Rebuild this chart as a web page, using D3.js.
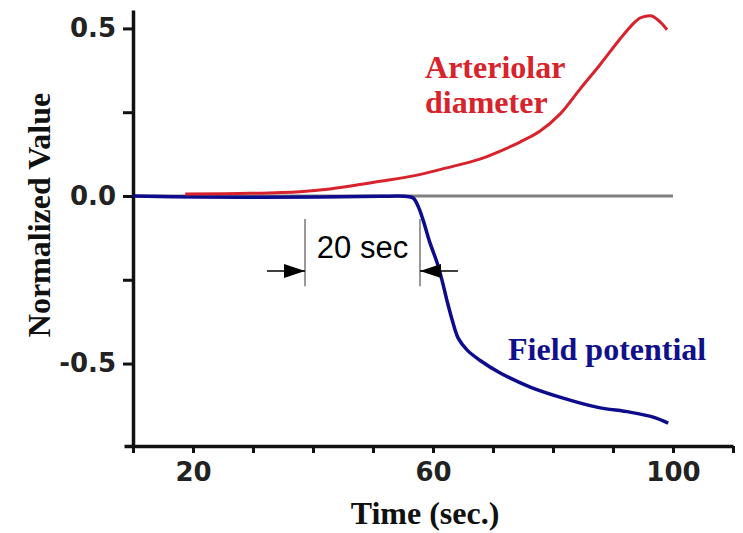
<!DOCTYPE html>
<html>
<head>
<meta charset="utf-8">
<script src="https://cdn.jsdelivr.net/npm/d3@7"></script>
<style>
  body { margin: 0; background: #fff; }
  svg { display: block; }
  .axis path, .axis line { stroke: #111; }
  .axis text { font-family: "DejaVu Sans", sans-serif; font-weight: bold; font-size: 26px; fill: #222; }
  .title { font-family: "Liberation Serif", "Times New Roman", serif; font-weight: bold; font-size: 32px; }
</style>
</head>
<body>
<div id="chart"></div>
<script>
// data
var redTime  = [18.7, 29.5, 37.8, 42.8, 47.8, 51.2, 56.7, 62.3, 67.8, 71.2, 74.5, 77.8, 81.2, 84.5, 87.8, 91.2, 93.3, 94.5, 95.7, 96.5, 97.3, 98.2, 99.0];
var redValue = [0.006, 0.008, 0.013, 0.021, 0.034, 0.044, 0.060, 0.084, 0.110, 0.134, 0.161, 0.193, 0.245, 0.319, 0.391, 0.469, 0.513, 0.531, 0.537, 0.537, 0.528, 0.513, 0.496];

var blueTime  = [10, 21.2, 31.2, 41.2, 51.2, 55.3, 56.7, 57.5, 58.3, 59.5, 60.7, 61.5, 62.3, 63.2, 64.2, 65.7, 67.8, 71.2, 76.2, 81.7, 87.3, 92.8, 96.7, 99.2];
var blueValue = [0, -0.003, -0.004, -0.003, -0.001, -0.001, -0.006, -0.030, -0.069, -0.140, -0.200, -0.251, -0.310, -0.370, -0.424, -0.460, -0.490, -0.528, -0.570, -0.603, -0.630, -0.645, -0.660, -0.678];

var xTicks = [10, 20, 30, 40, 50, 60, 70, 80, 90, 100, 110];
var xLabels = [20, 60, 100];
var yTicks = [-0.5, -0.25, 0, 0.25, 0.5];
var yLabels = ['-0.5', '0.0', '0.5'];

var baseline = [10, 100];              // grey zero line, time range
var bracket = {left: 38.67, right: 57.83, tailLeft: 32.33, tailRight: 64.17,
               top: -0.069, bottom: -0.269, arrow: -0.224, text: -0.185};

var width = 743, height = 533;

var x_scale = d3.scaleLinear()
    .domain([8.5, 110])
    .range([124, 733]);
var y_scale = d3.scaleLinear()
    .domain([-0.746, 0.555])
    .range([446, 10]);

var svg = d3.select('#chart')
    .append('svg')
        .attr('width', width)
        .attr('height', height);

// grey zero line
svg.append('line')
    .attr('x1', x_scale(baseline[0]))
    .attr('x2', x_scale(baseline[1]))
    .attr('y1', y_scale(0))
    .attr('y2', y_scale(0))
    .attr('stroke', '#808080')
    .attr('stroke-width', 3);

// axes
var xAxis = svg.append('g')
    .attr('class', 'axis')
    .attr('transform', 'translate(0,' + y_scale.range()[0] + ')')
    .call(d3.axisBottom(x_scale)
        .tickValues(xTicks)
        .tickSize(7)
        .tickSizeOuter(0)
        .tickPadding(10)
        .tickFormat(function(d) { return xLabels.indexOf(d) >= 0 ? d : ''; }));
xAxis.select('.domain').attr('stroke-width', 3.5);
xAxis.selectAll('.tick line').attr('stroke-width', 3);

var yAxis = svg.append('g')
    .attr('class', 'axis')
    .attr('transform', 'translate(' + x_scale(10) + ',0)')
    .call(d3.axisLeft(y_scale)
        .tickValues(yTicks)
        .tickSize(10)
        .tickSizeOuter(0)
        .tickPadding(7)
        .tickFormat(function(d) {
            var s = d.toFixed(1);
            return yLabels.indexOf(s) >= 0 ? s : '';
        }));
yAxis.select('.domain').attr('stroke-width', 3.5);
yAxis.selectAll('.tick line').attr('stroke-width', 3);

// series
var line = d3.line()
    .x(function(d) { return x_scale(d[0]); })
    .y(function(d) { return y_scale(d[1]); })
    .curve(d3.curveCatmullRom);

svg.append('path')
    .datum(d3.zip(blueTime, blueValue))
    .attr('d', line)
    .attr('fill', 'none')
    .attr('stroke', '#0c0c8c')
    .attr('stroke-width', 3.5);

svg.append('path')
    .datum(d3.zip(redTime, redValue))
    .attr('d', line)
    .attr('fill', 'none')
    .attr('stroke', '#d8232c')
    .attr('stroke-width', 3);

// "20 sec" bracket
[bracket.left, bracket.right].forEach(function(t) {
    svg.append('line')
        .attr('x1', x_scale(t)).attr('x2', x_scale(t))
        .attr('y1', y_scale(bracket.top)).attr('y2', y_scale(bracket.bottom))
        .attr('stroke', '#777')
        .attr('stroke-width', 1.5);
});
svg.append('line')
    .attr('x1', x_scale(bracket.tailLeft)).attr('x2', x_scale(bracket.left))
    .attr('y1', y_scale(bracket.arrow)).attr('y2', y_scale(bracket.arrow))
    .attr('stroke', '#000').attr('stroke-width', 1.5);
svg.append('line')
    .attr('x1', x_scale(bracket.right)).attr('x2', x_scale(bracket.tailRight))
    .attr('y1', y_scale(bracket.arrow)).attr('y2', y_scale(bracket.arrow))
    .attr('stroke', '#000').attr('stroke-width', 1.5);

var ay = y_scale(bracket.arrow);
var lx = x_scale(bracket.left), rx = x_scale(bracket.right);
svg.append('path')
    .attr('d', 'M' + lx + ',' + ay + 'L' + (lx - 21) + ',' + (ay - 7) + 'L' + (lx - 21) + ',' + (ay + 7) + 'Z')
    .attr('fill', '#000');
svg.append('path')
    .attr('d', 'M' + rx + ',' + ay + 'L' + (rx + 21) + ',' + (ay - 7) + 'L' + (rx + 21) + ',' + (ay + 7) + 'Z')
    .attr('fill', '#000');

svg.append('text')
    .attr('x', x_scale((bracket.left + bracket.right) / 2))
    .attr('y', y_scale(bracket.text))
    .attr('text-anchor', 'middle')
    .attr('font-family', '"Liberation Sans", Arial, sans-serif')
    .attr('font-size', 31)
    .attr('fill', '#000')
    .text('20 sec');

// series labels
svg.append('text')
    .attr('class', 'title')
    .attr('x', x_scale(58.67))
    .attr('y', y_scale(0.352))
    .attr('fill', '#d8232c')
    .text('Arteriolar');
svg.append('text')
    .attr('class', 'title')
    .attr('x', x_scale(58.67))
    .attr('y', y_scale(0.248))
    .attr('fill', '#d8232c')
    .text('diameter');
svg.append('text')
    .attr('class', 'title')
    .attr('x', x_scale(72.5))
    .attr('y', y_scale(-0.49))
    .attr('fill', '#10108a')
    .text('Field potential');

// axis titles
svg.append('text')
    .attr('class', 'title')
    .attr('transform', 'translate(50,215)rotate(-90)')
    .attr('text-anchor', 'middle')
    .attr('fill', '#111')
    .text('Normalized Value');

svg.append('text')
    .attr('class', 'title')
    .attr('x', 425)
    .attr('y', 524)
    .attr('text-anchor', 'middle')
    .attr('fill', '#111')
    .text('Time (sec.)');
</script>
</body>
</html>
